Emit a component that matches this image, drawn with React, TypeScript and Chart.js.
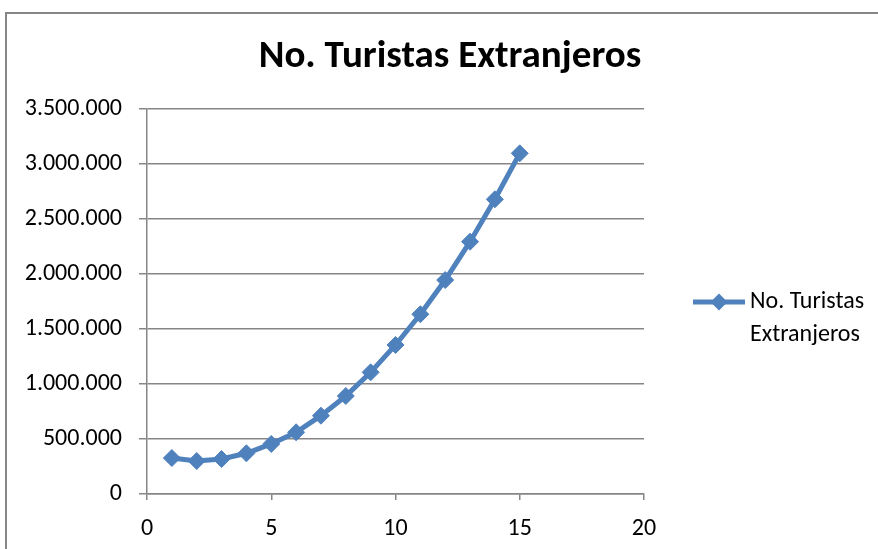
import React, { useEffect, useRef } from "react";
import { Chart, registerables } from "chart.js";

Chart.register(...registerables);

const titleText = "No. Turistas Extranjeros";
const seriesName = ["No. Turistas", "Extranjeros"];
const years = [1, 2, 3, 4, 5, 6, 7, 8, 9, 10, 11, 12, 13, 14, 15];
const tourists = [
  327000, 300000, 318000, 370000, 455000, 561000, 712000, 891000, 1106000,
  1355000, 1634000, 1945000, 2294000, 2679000, 3097000,
];
const xTicks = [0, 5, 10, 15, 20];
const yTicks = [0, 500000, 1000000, 1500000, 2000000, 2500000, 3000000, 3500000];

const FONT = "Carlito, Lato, 'Open Sans', sans-serif";
const LINE = "#4F81BD";
const GRID = "#868686";

function fmt(v: number): string {
  return String(Math.round(v)).replace(/\B(?=(\d{3})+(?!\d))/g, ".");
}

const titleLegendPlugin = {
  id: "titleLegend",
  afterDraw(chart: any) {
    const ctx = chart.ctx;
    const ds = chart.data.datasets[0];
    ctx.save();
    // title
    ctx.fillStyle = "#000";
    ctx.font = `bold 39px ${FONT}`;
    ctx.textAlign = "center";
    ctx.textBaseline = "middle";
    ctx.fillText(titleText, 450, 57);
    // legend
    const y = 302;
    ctx.strokeStyle = ds.borderColor;
    ctx.lineWidth = ds.borderWidth;
    ctx.beginPath();
    ctx.moveTo(693, y);
    ctx.lineTo(745, y);
    ctx.stroke();
    ctx.fillStyle = ds.pointBackgroundColor;
    const r = 8.5;
    ctx.beginPath();
    ctx.moveTo(719, y - r);
    ctx.lineTo(719 + r, y);
    ctx.lineTo(719, y + r);
    ctx.lineTo(719 - r, y);
    ctx.closePath();
    ctx.fill();
    ctx.fillStyle = "#000";
    ctx.font = `24px ${FONT}`;
    ctx.textBaseline = "middle";
    ctx.textAlign = "left";
    ctx.fillText(seriesName[0], 750, y);
    ctx.fillText(seriesName[1], 750, y + 33);
    ctx.restore();
  },
};

export default function App() {
  const ref = useRef<HTMLCanvasElement | null>(null);
  useEffect(() => {
    if (!ref.current) return;
    const chart = new Chart(ref.current, {
      type: "line",
      data: {
        datasets: [
          {
            label: seriesName.join(" "),
            data: years.map((x, i) => ({ x, y: tourists[i] })),
            borderColor: LINE,
            backgroundColor: LINE,
            pointBackgroundColor: LINE,
            pointBorderColor: LINE,
            borderWidth: 5,
            pointStyle: "rectRot",
            pointRadius: 8.5,
            pointBorderWidth: 1,
            tension: 0,
          },
        ],
      },
      plugins: [titleLegendPlugin],
      options: {
        animation: false,
        responsive: false,
        layout: { padding: { left: 0, right: 234, top: 109, bottom: 0 } },
        plugins: {
          legend: { display: false },
          tooltip: { enabled: false },
          title: { display: false },
        },
        scales: {
          x: {
            type: "linear",
            min: 0,
            max: 20,
            afterBuildTicks: (s: any) => {
              s.ticks = xTicks.map((v) => ({ value: v }));
            },
            afterFit: (s: any) => {
              s.height = 55;
            },
            grid: {
              drawOnChartArea: false,
              drawTicks: true,
              tickLength: 6,
              color: GRID,
              lineWidth: 1.5,
            },
            border: { color: GRID, width: 1.5 },
            ticks: {
              color: "#000",
              padding: 15,
              font: { family: FONT, size: 24 },
              maxRotation: 0,
            },
          },
          y: {
            type: "linear",
            min: 0,
            max: 3500000,
            afterBuildTicks: (s: any) => {
              s.ticks = yTicks.map((v) => ({ value: v }));
            },
            afterFit: (s: any) => {
              s.width = 147;
            },
            grid: {
              color: GRID,
              lineWidth: 1.5,
              tickLength: 8,
            },
            border: { color: GRID, width: 1.5 },
            ticks: {
              color: "#000",
              padding: 17,
              font: { family: FONT, size: 24 },
              callback: (v: any) => fmt(Number(v)),
            },
          },
        },
      },
    });
    return () => chart.destroy();
  }, []);

  return (
    <div
      style={{
        position: "fixed",
        left: 0,
        top: 0,
        width: 878,
        height: 549,
        background: "#fff",
        overflow: "hidden",
      }}
    >
      <div
        style={{
          position: "absolute",
          left: 5,
          top: 12,
          width: 1000,
          height: 1000,
          border: `2px solid ${GRID}`,
          boxSizing: "border-box",
        }}
      />
      <canvas
        ref={ref}
        width={878}
        height={549}
        style={{ position: "absolute", left: 0, top: 0, width: 878, height: 549 }}
      />
    </div>
  );
}
